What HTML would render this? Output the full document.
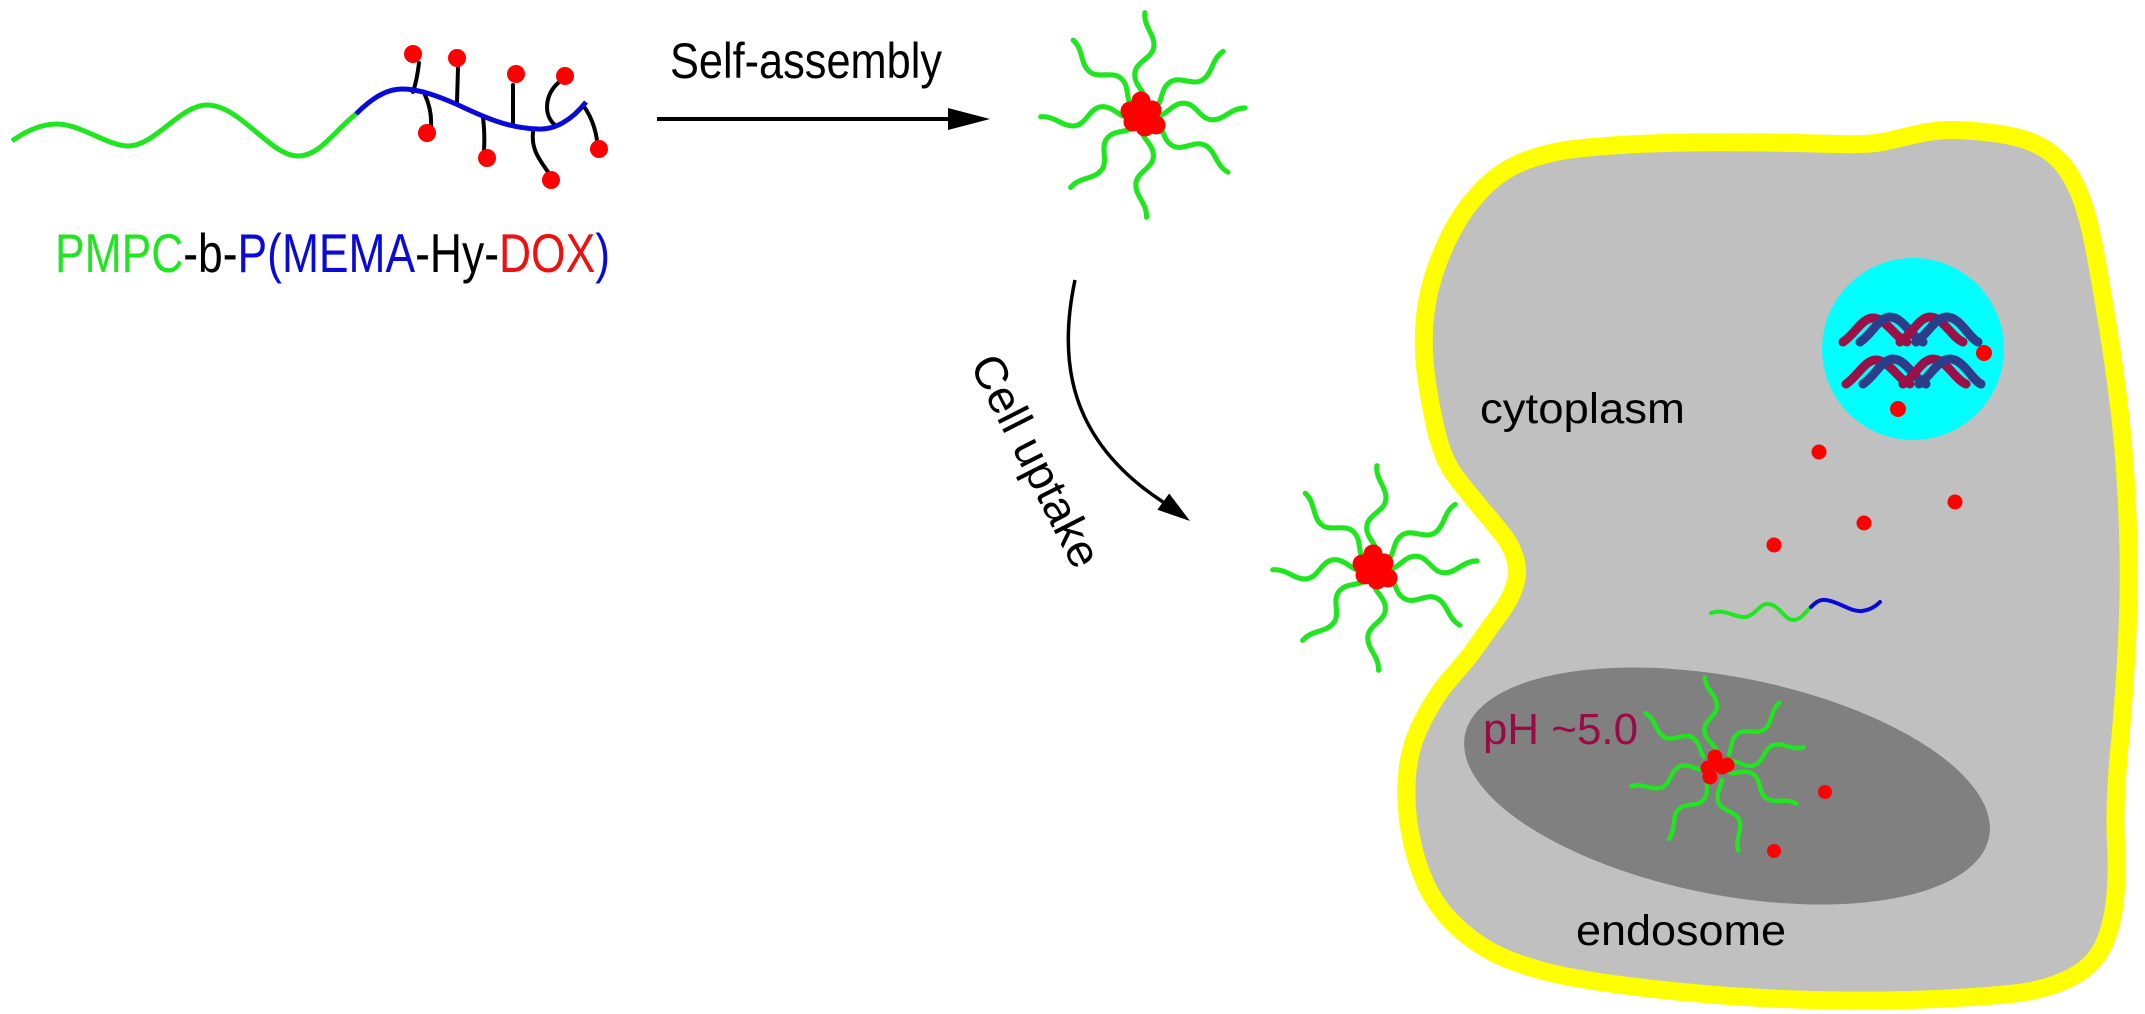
<!DOCTYPE html>
<html>
<head>
<meta charset="utf-8">
<style>
  html,body{margin:0;padding:0;background:#fff;}
  svg{display:block;}
  text{font-family:"Liberation Sans", sans-serif;}
</style>
</head>
<body>
<svg width="2145" height="1014" viewBox="0 0 2145 1014" xmlns="http://www.w3.org/2000/svg">
  <defs>
    <path id="armA" d="M18,0 C26,-4 30,-12 40,-12 C52,-12 56,4 68,4 C80,4 86,-8 100,-8" fill="none" stroke="#1fe61f" stroke-width="5" stroke-linecap="round"/>
    <path id="armB" d="M18,0 C26,4 30,12 40,12 C52,12 56,-4 68,-4 C80,-4 86,8 100,8" fill="none" stroke="#1fe61f" stroke-width="5" stroke-linecap="round"/>
    <g id="mic1">
      <g transform="scale(1.02)">
        <use href="#armA" transform="rotate(-84.4)"/>
        <use href="#armB" transform="rotate(-137.6)"/>
        <use href="#armA" transform="rotate(-33.9)"/>
        <use href="#armB" transform="rotate(174.4)"/>
        <use href="#armA" transform="rotate(0.6)"/>
        <use href="#armB" transform="rotate(130.4)"/>
        <use href="#armA" transform="rotate(92.6)"/>
        <use href="#armB" transform="rotate(29.4)"/>
      </g>
      <g fill="#ff0000">
        <circle cx="-2" cy="-14" r="9.5"/>
        <circle cx="-13" cy="-4" r="9.5"/>
        <circle cx="-10" cy="7" r="9.5"/>
        <circle cx="2" cy="12" r="9.5"/>
        <circle cx="13" cy="10" r="9.5"/>
        <circle cx="9" cy="-5" r="9.5"/>
        <circle cx="0" cy="0" r="6"/>
      </g>
    </g>
  </defs>

  <!-- Polymer chain -->
  <g fill="none" stroke="#000" stroke-width="4" stroke-linecap="round">
    <path d="M419,63 Q417,80 413,92"/>
    <path d="M425,95 Q432,110 431,127"/>
    <path d="M458,68 L457,102"/>
    <path d="M483,117 Q485,135 484,150"/>
    <path d="M513,85 L513,125"/>
    <path d="M533,132 C531,150 540,160 548,172"/>
    <path d="M558,83 C545,95 543,115 555,125"/>
    <path d="M583,105 Q594,120 597,140"/>
  </g>
  <path d="M12,141 C30,128 45,124 57,124 C80,124 108,146 128,146 C155,146 180,105 207,105 C240,105 270,156 298,156 C320,156 335,130 356,114" fill="none" stroke="#1fe61f" stroke-width="5"/>
  <path d="M356,114 C370,100 385,89 402,89 C420,89 440,97 456,104 C480,115 505,128 538,129 C555,130 572,120 586,102" fill="none" stroke="#0a0ad8" stroke-width="5"/>
  <g fill="#ff0000">
    <circle cx="413" cy="54" r="9"/>
    <circle cx="427" cy="133" r="9"/>
    <circle cx="457" cy="58" r="9"/>
    <circle cx="487" cy="158" r="9"/>
    <circle cx="516" cy="74" r="9"/>
    <circle cx="551" cy="180" r="9"/>
    <circle cx="565" cy="76" r="9"/>
    <circle cx="599" cy="149" r="9"/>
  </g>

  <text x="55" y="272" font-size="55" textLength="555" lengthAdjust="spacingAndGlyphs"><tspan fill="#1fe61f">PMPC</tspan><tspan fill="#000">-b-</tspan><tspan fill="#0a0ad8">P(MEMA</tspan><tspan fill="#000">-Hy-</tspan><tspan fill="#ee1111">DOX</tspan><tspan fill="#0a0ad8">)</tspan></text>

  <!-- Self-assembly arrow -->
  <text x="670" y="78" font-size="50" fill="#000" textLength="272" lengthAdjust="spacingAndGlyphs">Self-assembly</text>
  <line x1="657" y1="119" x2="955" y2="119" stroke="#000" stroke-width="4"/>
  <polygon points="990,119 948,108 948,130" fill="#000"/>

  <!-- Micelle 1 -->
  <use href="#mic1" transform="translate(1143,115)"/>

  <!-- Cell uptake arrow -->
  <path d="M1075,280 C1058,360 1068,440 1163,502" fill="none" stroke="#000" stroke-width="3.5"/>
  <polygon points="1190,521 1157.4,509.7 1169.2,493.5" fill="#000"/>
  <text x="1022" y="468" transform="rotate(63 1022 468)" text-anchor="middle" font-size="46" fill="#000" textLength="232" lengthAdjust="spacingAndGlyphs">Cell uptake</text>

  <!-- Cell -->
  <path d="M1441,255 Q1453,226 1466.5,208 Q1480,190 1493.5,179 Q1507,168 1523.5,161.5 Q1540,155 1558,151.5 Q1576,148 1613,145.5 Q1650,143 1686.5,142.5 Q1723,142 1761.5,142.5 Q1800,143 1835,144 Q1870,145 1885,141.5 Q1900,138 1917.5,134 Q1935,130 1951.5,130 Q1968,130 1992.5,133 Q2017,136 2033.5,143 Q2050,150 2061,162.5 Q2072,175 2080,195 Q2088,215 2094.5,249.5 Q2101,284 2108,327.5 Q2115,371 2120,414.5 Q2125,458 2127.5,515.5 Q2130,573 2127.5,631 Q2125,689 2119.5,747 Q2114,805 2116,842.5 Q2118,880 2114,907.5 Q2110,935 2100,951.5 Q2090,968 2070,978 Q2050,988 2025,992 Q2000,996 1935,999 Q1870,1002 1796.5,999.5 Q1723,997 1649.5,988.5 Q1576,980 1543,971 Q1510,962 1490,951 Q1470,940 1452.5,922.5 Q1435,905 1425,882.5 Q1415,860 1410,832.5 Q1405,805 1407,776 Q1409,747 1423,720 Q1437,693 1452,676.5 Q1467,660 1478.5,643.5 Q1490,627 1500,613.5 Q1510,600 1514.5,586.5 Q1519,573 1515.5,560 Q1512,547 1504.5,537 Q1497,527 1482.5,510 Q1468,493 1455.5,476.5 Q1443,460 1436,430 Q1429,400 1425.5,371 Q1422,342 1425.5,313 Q1429,284 1441,255 Z" fill="#c0c0c0" stroke="#ffff00" stroke-width="18" stroke-linejoin="round"/>

  <!-- Nucleus -->
  <circle cx="1913" cy="349" r="91" fill="#00ffff"/>
  <g fill="none" stroke-width="9" stroke-linecap="round" transform="translate(0,4)">
    <path d="M1843,338 C1855,330 1862,314 1873,314 C1886,314 1895,334 1907,338" stroke="#9c1048"/>
    <path d="M1860,338 C1872,330 1879,313 1890,313 C1903,313 1912,334 1923,338" stroke="#2c3e8a"/>
    <path d="M1900,338 C1912,330 1919,313 1930,313 C1943,313 1952,334 1963,338" stroke="#9c1048"/>
    <path d="M1916,338 C1928,330 1935,313 1947,313 C1960,313 1969,334 1978,338" stroke="#2c3e8a"/>
    <g transform="translate(3,42)">
      <path d="M1843,338 C1855,330 1862,314 1873,314 C1886,314 1895,334 1907,338" stroke="#9c1048"/>
      <path d="M1860,338 C1872,330 1879,313 1890,313 C1903,313 1912,334 1923,338" stroke="#2c3e8a"/>
      <path d="M1900,338 C1912,330 1919,313 1930,313 C1943,313 1952,334 1963,338" stroke="#9c1048"/>
      <path d="M1916,338 C1928,330 1935,313 1947,313 C1960,313 1969,334 1978,338" stroke="#2c3e8a"/>
    </g>
  </g>
  <g fill="#ff0000">
    <circle cx="1984" cy="353" r="8"/>
    <circle cx="1898" cy="409" r="8"/>
    <circle cx="1819" cy="452" r="7.5"/>
    <circle cx="1955" cy="502" r="7.5"/>
    <circle cx="1864" cy="523" r="7.5"/>
    <circle cx="1774" cy="545" r="7.5"/>
  </g>

  <text x="1480" y="423" font-size="43" fill="#000" textLength="205" lengthAdjust="spacingAndGlyphs">cytoplasm</text>

  <!-- free polymer -->
  <path d="M1711,613 C1725,608 1735,618 1745,617 C1755,616 1760,603 1768,604 C1780,605 1785,621 1794,620 C1802,619 1806,611 1811,607" fill="none" stroke="#1fe61f" stroke-width="4" stroke-linecap="round"/>
  <path d="M1811,607 C1816,602 1820,599 1826,600 C1840,602 1850,612 1862,611 C1870,610 1876,606 1880,602" fill="none" stroke="#0a0ad8" stroke-width="4" stroke-linecap="round"/>

  <!-- Endosome -->
  <ellipse cx="1727" cy="786" rx="267" ry="109" transform="rotate(11 1727 786)" fill="#808080"/>
  <text x="1483" y="744" font-size="44" fill="#9c0a46" textLength="155" lengthAdjust="spacingAndGlyphs">pH ~5.0</text>

  <g transform="translate(1717,765)">
    <g transform="scale(0.88)">
      <use href="#armA" transform="rotate(-93.4)"/>
      <use href="#armB" transform="rotate(-148.6)"/>
      <use href="#armA" transform="rotate(-40.4)"/>
      <use href="#armB" transform="rotate(-16.1)"/>
      <use href="#armA" transform="rotate(30.6)"/>
      <use href="#armB" transform="rotate(71.4)"/>
      <use href="#armA" transform="rotate(127.6)"/>
      <use href="#armB" transform="rotate(161.4)"/>
    </g>
    <g fill="#ff0000">
      <circle cx="-2" cy="-8" r="7.5"/>
      <circle cx="-9" cy="3" r="7.5"/>
      <circle cx="-7" cy="12" r="7.5"/>
      <circle cx="5" cy="2" r="7.5"/>
      <circle cx="10" cy="0" r="7.5"/>
    </g>
  </g>
  <g fill="#ff0000">
    <circle cx="1825" cy="792" r="7"/>
    <circle cx="1774" cy="851" r="7"/>
  </g>

  <text x="1576" y="945" font-size="43" fill="#000" textLength="210" lengthAdjust="spacingAndGlyphs">endosome</text>

  <!-- Micelle 2 near the cell -->
  <use href="#mic1" transform="translate(1375,568)"/>
</svg>
</body>
</html>
